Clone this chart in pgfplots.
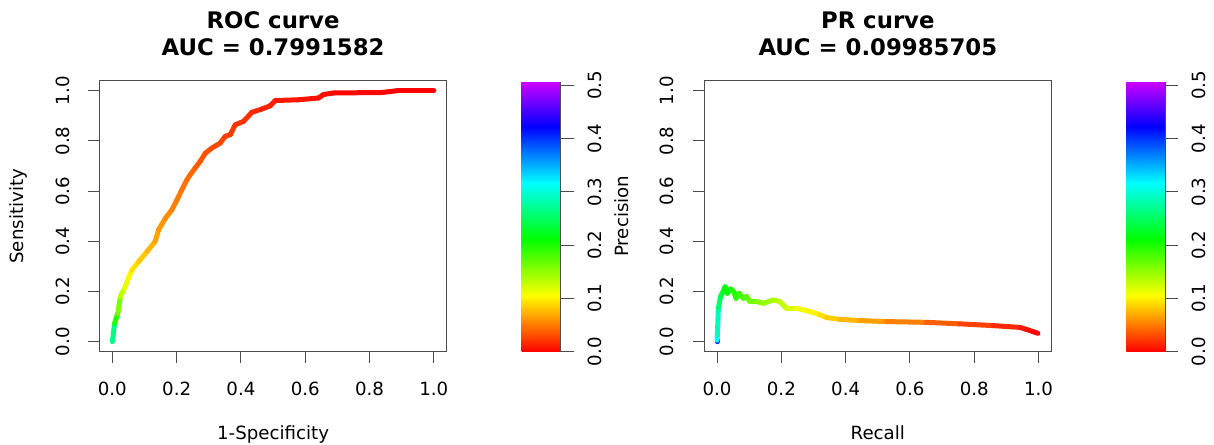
\documentclass[border=0pt]{standalone}
\usepackage{fontspec}
\setmainfont{DejaVu Sans}
\usepackage{pgfplots}
\pgfplotsset{compat=1.18}
\usepackage{pgfplotstable}

\newcommand\tickfont{\fontsize{18.2bp}{21bp}\selectfont}
\newcommand\labfont{\fontsize{18.2bp}{21bp}\selectfont}
\newcommand\titlefont{\fontsize{22.8bp}{27.5bp}\selectfont\bfseries}

\pgfplotstableread{
x y c
0 0 0.32
0.007 0.073 0.21
0.017 0.113 0.18
0.025 0.180 0.14
0.038 0.213 0.12
0.050 0.253 0.107
0.061 0.286 0.098
0.082 0.319 0.088
0.108 0.359 0.079
0.133 0.399 0.071
0.144 0.446 0.066
0.165 0.492 0.060
0.185 0.525 0.056
0.201 0.565 0.052
0.216 0.605 0.049
0.232 0.645 0.046
0.242 0.665 0.044
0.257 0.691 0.041
0.273 0.718 0.038
0.289 0.751 0.035
0.309 0.771 0.032
0.335 0.791 0.030
0.351 0.818 0.027
0.367 0.825 0.025
0.382 0.864 0.023
0.408 0.878 0.021
0.434 0.914 0.018
0.465 0.927 0.015
0.491 0.940 0.013
0.507 0.961 0.011
0.579 0.964 0.009
0.641 0.971 0.007
0.657 0.985 0.006
0.688 0.991 0.004
0.839 0.993 0.002
0.885 1.0 0.001
1.0 1.0 0.0
}\rocdata

\pgfplotstableread{
x y c
0 0 0.5
0 0.006 0.32
0.001 0.027 0.31
0.004 0.133 0.27
0.011 0.180 0.245
0.019 0.200 0.23
0.025 0.219 0.22
0.032 0.193 0.21
0.042 0.210 0.205
0.052 0.200 0.20
0.059 0.173 0.195
0.069 0.193 0.19
0.081 0.173 0.183
0.092 0.180 0.177
0.102 0.160 0.17
0.123 0.160 0.16
0.144 0.153 0.152
0.175 0.166 0.142
0.195 0.160 0.135
0.216 0.133 0.127
0.247 0.133 0.117
0.289 0.120 0.105
0.320 0.107 0.097
0.341 0.096 0.09
0.382 0.089 0.081
0.444 0.084 0.071
0.527 0.080 0.06
0.651 0.077 0.045
0.755 0.071 0.033
0.858 0.064 0.022
0.941 0.057 0.012
0.962 0.049 0.008
0.983 0.040 0.004
0.998 0.033 0.0
}\prdata

\pgfplotsset{
  colormap={rrainbow}{rgb255(0cm)=(255,0,0) rgb255(5cm)=(255,255,0) rgb255(10cm)=(0,255,0) rgb255(15cm)=(0,255,255) rgb255(20cm)=(0,0,255) rgb255(24cm)=(204,0,255)},
  rpanel/.style={
    scale only axis, width=347.2bp, height=271bp,
    xmin=-0.04, xmax=1.04, ymin=-0.04, ymax=1.04,
    xtick={0,0.2,0.4,0.6,0.8,1}, xticklabels={0.0,0.2,0.4,0.6,0.8,1.0},
    ytick={0,0.2,0.4,0.6,0.8,1}, yticklabels={0.0,0.2,0.4,0.6,0.8,1.0},
    xtick pos=left, ytick pos=left,
    tick align=outside, major tick length=11.5bp,
    axis line style={black!70, line width=1bp},
    every tick/.style={black!70, line width=1bp},
    xticklabel style={font=\tickfont, inner sep=0pt, yshift=-18.5bp, anchor=north},
    yticklabel style={font=\tickfont, inner sep=0pt, xshift=-18.5bp, rotate=90, anchor=south},
    title style={font=\titlefont, align=center, at={(axis description cs:0.5,1.151)}, anchor=center},
    xlabel style={font=\labfont, at={(axis description cs:0.5,-0.3258)}, anchor=base},
    ylabel style={font=\labfont, at={(axis description cs:-0.218,0.5)}, anchor=base},
    colormap name=rrainbow,
    point meta min=0, point meta max=0.507,
    colorbar,
    colorbar/width=39.2bp,
    colorbar shift/.style={},
    colorbar style={
      scale only axis, width=39.2bp, height=270bp,
      at={(parent axis.north east)}, anchor=north west, xshift=75bp, yshift=-1bp,
      xmin=0, xmax=1,
      ytick={0,0.1,0.2,0.3,0.4,0.5}, yticklabels={0.0,0.1,0.2,0.3,0.4,0.5},
      xtick=\empty,
      ytick pos=right, yticklabel pos=right,
      tick align=outside, major tick length=12.6bp,
      every tick/.style={black!70, line width=1bp},
      axis x line=none, axis y line*=right,
      axis line style={black!70, line width=1bp, -},
      yticklabel style={font=\tickfont, inner sep=0pt, xshift=14bp, rotate=90, anchor=north},
    },
  },
}

\begin{document}
\begin{tikzpicture}
\path[use as bounding box] (0,0) rectangle (1214bp,445bp);
\begin{axis}[rpanel, at={(99.5bp,93.3bp)}, anchor=south west,
  title={ROC curve\\AUC = 0.7991582}, xlabel={1-Specificity}, ylabel={Sensitivity}]
\addplot[mesh, point meta=explicit, line width=5bp, line cap=round, line join=round]
  table[x=x, y=y, meta=c] {\rocdata};
\end{axis}
\begin{axis}[rpanel, at={(704.2bp,93.3bp)}, anchor=south west,
  title={PR curve\\AUC = 0.09985705}, xlabel={Recall}, ylabel={Precision}]
\addplot[mesh, point meta=explicit, line width=5bp, line cap=round, line join=round]
  table[x=x, y=y, meta=c] {\prdata};
\end{axis}
\end{tikzpicture}
\end{document}
